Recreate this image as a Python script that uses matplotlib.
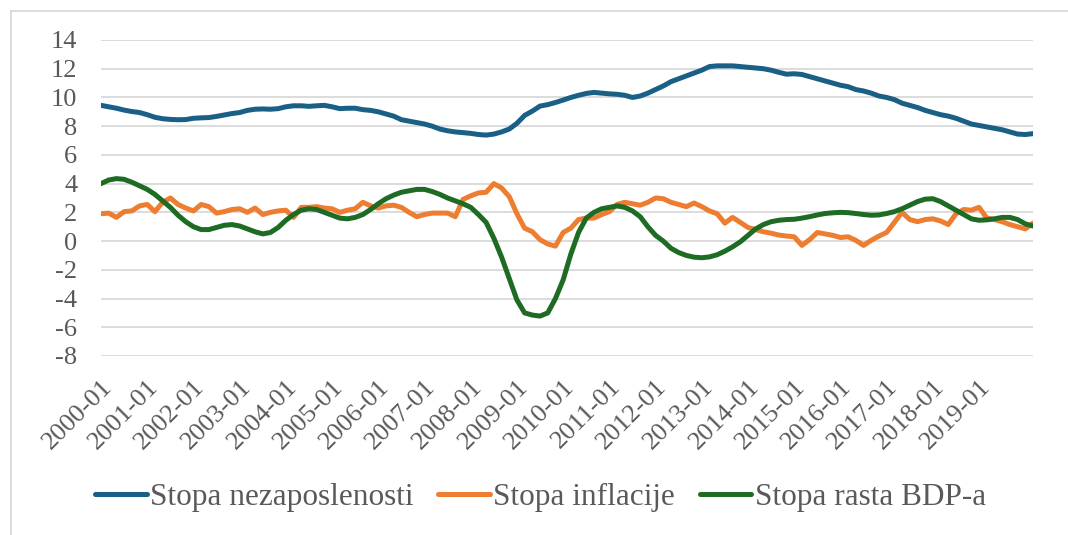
"""Unemployment, inflation and GDP growth rates, 2000-2020."""
import matplotlib
matplotlib.use("Agg")
import matplotlib.pyplot as plt
from matplotlib.lines import Line2D
import numpy as np

# bimonthly readings, starting 2000-01, last one 2020-03
start_year = 2000
step_months = 2

unemployment = [
    9.45, 9.35, 9.25, 9.12, 9.02, 8.95, 8.80, 8.62, 8.52, 8.47,
    8.45, 8.46, 8.55, 8.58, 8.60, 8.68, 8.78, 8.88, 8.95, 9.10,
    9.18, 9.20, 9.18, 9.22, 9.35, 9.42, 9.42, 9.38, 9.42, 9.45,
    9.35, 9.22, 9.25, 9.25, 9.15, 9.10, 9.00, 8.85, 8.70, 8.45,
    8.35, 8.25, 8.15, 8.00, 7.80, 7.68, 7.60, 7.55, 7.50, 7.42,
    7.38, 7.45, 7.60, 7.80, 8.20, 8.75, 9.05, 9.40, 9.50, 9.65,
    9.82, 10.00, 10.15, 10.28, 10.35, 10.30, 10.25, 10.22, 10.15, 10.00,
    10.10, 10.30, 10.55, 10.80, 11.10, 11.30, 11.50, 11.70, 11.90, 12.15,
    12.20, 12.20, 12.20, 12.15, 12.10, 12.05, 12.00, 11.90, 11.75, 11.62,
    11.65, 11.60, 11.45, 11.30, 11.15, 11.00, 10.85, 10.75, 10.55, 10.45,
    10.30, 10.10, 10.00, 9.85, 9.60, 9.45, 9.30, 9.10, 8.95, 8.80,
    8.70, 8.55, 8.35, 8.15, 8.05, 7.95, 7.85, 7.75, 7.60, 7.45,
    7.42, 7.48,
]

inflation = [
    1.90, 1.95, 1.65, 2.05, 2.10, 2.45, 2.55, 2.05, 2.70, 3.00,
    2.55, 2.30, 2.10, 2.55, 2.40, 1.95, 2.05, 2.20, 2.25, 2.00,
    2.30, 1.85, 2.00, 2.10, 2.15, 1.65, 2.35, 2.35, 2.40, 2.30,
    2.25, 2.00, 2.15, 2.25, 2.70, 2.45, 2.30, 2.45, 2.50, 2.35,
    2.00, 1.70, 1.85, 1.95, 1.95, 1.95, 1.70, 2.90, 3.15, 3.35,
    3.40, 4.00, 3.70, 3.10, 1.90, 0.90, 0.65, 0.10, -0.20, -0.35,
    0.60, 0.90, 1.50, 1.60, 1.60, 1.85, 2.05, 2.55, 2.70, 2.60,
    2.50, 2.70, 3.00, 2.95, 2.70, 2.55, 2.40, 2.65, 2.40, 2.10,
    1.90, 1.25, 1.65, 1.30, 0.95, 0.80, 0.65, 0.55, 0.42, 0.35,
    0.30, -0.30, 0.10, 0.60, 0.50, 0.40, 0.25, 0.30, 0.05, -0.30,
    0.05, 0.35, 0.60, 1.30, 2.00, 1.50, 1.35, 1.50, 1.55, 1.40,
    1.15, 1.90, 2.20, 2.15, 2.35, 1.60, 1.50, 1.35, 1.15, 1.00,
    0.85, 1.25,
]

gdp_growth = [
    4.00, 4.25, 4.35, 4.30, 4.10, 3.85, 3.60, 3.25, 2.80, 2.35,
    1.80, 1.35, 1.00, 0.80, 0.80, 0.95, 1.10, 1.15, 1.05, 0.85,
    0.65, 0.50, 0.60, 0.95, 1.45, 1.85, 2.15, 2.25, 2.20, 2.00,
    1.80, 1.60, 1.55, 1.65, 1.85, 2.20, 2.60, 2.95, 3.20, 3.40,
    3.50, 3.60, 3.60, 3.45, 3.25, 3.00, 2.80, 2.60, 2.35, 1.85,
    1.30, 0.20, -1.10, -2.60, -4.10, -5.00, -5.15, -5.22, -5.00, -4.00,
    -2.70, -0.90, 0.60, 1.60, 2.00, 2.25, 2.35, 2.45, 2.35, 2.10,
    1.70, 1.00, 0.40, 0.00, -0.50, -0.80, -1.00, -1.12, -1.16, -1.10,
    -0.95, -0.70, -0.40, -0.05, 0.40, 0.85, 1.15, 1.35, 1.45, 1.50,
    1.52, 1.60, 1.70, 1.82, 1.92, 1.97, 2.00, 1.98, 1.92, 1.85,
    1.80, 1.82, 1.92, 2.05, 2.25, 2.50, 2.75, 2.92, 2.95, 2.75,
    2.45, 2.15, 1.85, 1.55, 1.45, 1.48, 1.55, 1.65, 1.65, 1.50,
    1.20, 1.05,
]

labels = ["Stopa nezaposlenosti", "Stopa inflacije", "Stopa rasta BDP-a"]
colors = ["#1a5f86", "#ed7d31", "#1e6b23"]
yticks = list(range(-8, 16, 2))
tick_labels = [f"{start_year + i}-01" for i in range(20)]

plt.rcParams["font.family"] = ["Liberation Serif", "DejaVu Serif"]
text_color = "#595959"

fig = plt.figure(figsize=(10.68, 5.35), dpi=100)
ax = fig.add_axes([101 / 1068, 1 - 356 / 535, 932 / 1068, 316 / 535])

months = np.arange(len(unemployment)) * step_months
for series, label, color in zip([unemployment, inflation, gdp_growth], labels, colors):
    ax.plot(months, series, color=color, linewidth=3.6, label=label,
            solid_joinstyle="round", solid_capstyle="round")

ax.set_xlim(0, months[-1])
ax.set_ylim(-8, 14)
ax.set_yticks(yticks)
ax.set_yticklabels([str(v) for v in yticks])
ax.set_xticks(np.arange(len(tick_labels)) * 12)
ax.set_xticklabels(tick_labels, rotation=45, ha="right", va="top",
                   rotation_mode="anchor")
ax.tick_params(axis="both", length=0, labelsize=19, colors=text_color)
ax.tick_params(axis="y", pad=17)
ax.tick_params(axis="x", pad=14)
ax.grid(axis="y", color="#d9d9d9", linewidth=1.3)
ax.set_axisbelow(True)
for side in ax.spines.values():
    side.set_visible(False)

fig.legend(loc="center", bbox_to_anchor=(0.506, 1 - 497 / 535), ncol=3,
           frameon=False, fontsize=22.5, handlelength=1.65, handletextpad=0.1,
           columnspacing=0.8, labelcolor=text_color)

# outer chart frame (left and top edges are visible)
fig.add_artist(Line2D([11 / 1068, 11 / 1068], [0, 1 - 11 / 535],
                      transform=fig.transFigure, color="#d9d9d9", linewidth=1.3))
fig.add_artist(Line2D([11 / 1068, 1], [1 - 11 / 535, 1 - 11 / 535],
                      transform=fig.transFigure, color="#d9d9d9", linewidth=1.3))

fig.savefig("out.png", dpi=100)
